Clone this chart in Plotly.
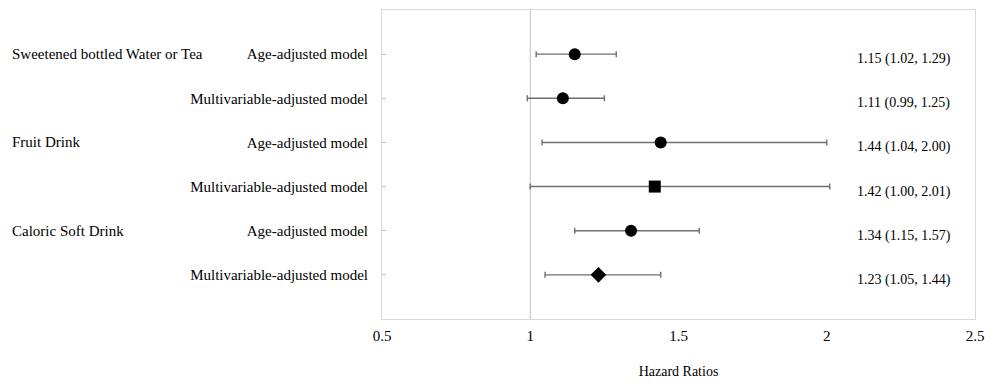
import plotly.graph_objects as go

groups = ["Sweetened bottled Water or Tea", "Fruit Drink", "Caloric Soft Drink"]
models = ["Age-adjusted model", "Multivariable-adjusted model"] * 3
hr = [1.15, 1.11, 1.44, 1.42, 1.34, 1.23]
lo = [1.02, 0.99, 1.04, 1.00, 1.15, 1.05]
hi = [1.29, 1.25, 2.00, 2.01, 1.57, 1.44]
symbols = ["circle", "circle", "circle", "square", "circle", "diamond"]
x_ticks = [0.5, 1, 1.5, 2, 2.5]
x_ticktext = ["0.5", "1", "1.5", "2", "2.5"]

n = len(hr)
ypos = [n - i for i in range(n)]  # 6..1 top to bottom

FONT = "Liberation Serif"
FS = 15
fig = go.Figure()
fig.add_trace(go.Scatter(
    x=hr, y=ypos, mode="markers",
    marker=dict(symbol=symbols, size=12, color="black"),
    error_x=dict(type="data", symmetric=False,
                 array=[h - m for h, m in zip(hi, hr)],
                 arrayminus=[m - l for m, l in zip(hr, lo)],
                 color="#6f6f6f", thickness=1.4, width=3),
    showlegend=False, hoverinfo="skip"))

fig.add_shape(type="line", x0=1, x1=1, y0=0, y1=1, xref="x", yref="paper",
              line=dict(color="#bfbfbf", width=1), layer="below")

for i, g in enumerate(groups):
    fig.add_annotation(x=-0.627, xref="paper", y=ypos[2 * i], yref="y",
                       text=g, showarrow=False, xanchor="left",
                       font=dict(family=FONT, size=FS, color="black"))

for i in range(n):
    fig.add_annotation(x=0.88, xref="paper", y=ypos[i], yref="y",
                       text=f"{hr[i]:.2f} ({lo[i]:.2f}, {hi[i]:.2f})",
                       showarrow=False, xanchor="center", yshift=-5,
                       font=dict(family=FONT, size=14, color="black"))

fig.update_xaxes(range=[0.5, 2.5], tickvals=x_ticks, ticktext=x_ticktext,
                 showgrid=False, zeroline=False, showline=True, mirror=True,
                 linecolor="#d9d9d9", linewidth=1, ticks="",
                 ticklabelstandoff=3, automargin=False,
                 tickfont=dict(family=FONT, size=FS, color="black"),
                 title=dict(text="Hazard Ratios", standoff=23,
                            font=dict(family=FONT, size=14, color="black")))
fig.update_yaxes(range=[0, 7], tickvals=ypos, ticktext=models,
                 showgrid=False, zeroline=False, showline=True, mirror=True,
                 linecolor="#d9d9d9", linewidth=1, ticks="inside", ticklen=4,
                 tickcolor="#bfbfbf", ticklabelstandoff=10, automargin=False,
                 tickfont=dict(family=FONT, size=FS, color="black"))

fig.update_layout(width=993, height=384,
                  margin=dict(l=382, r=18, t=10, b=65),
                  plot_bgcolor="white", paper_bgcolor="white",
                  font=dict(family=FONT, size=FS, color="black"))
fig.write_html("out.html", config={"displayModeBar": False},
               post_script="document.body.style.margin='0';document.body.style.padding='0';")
